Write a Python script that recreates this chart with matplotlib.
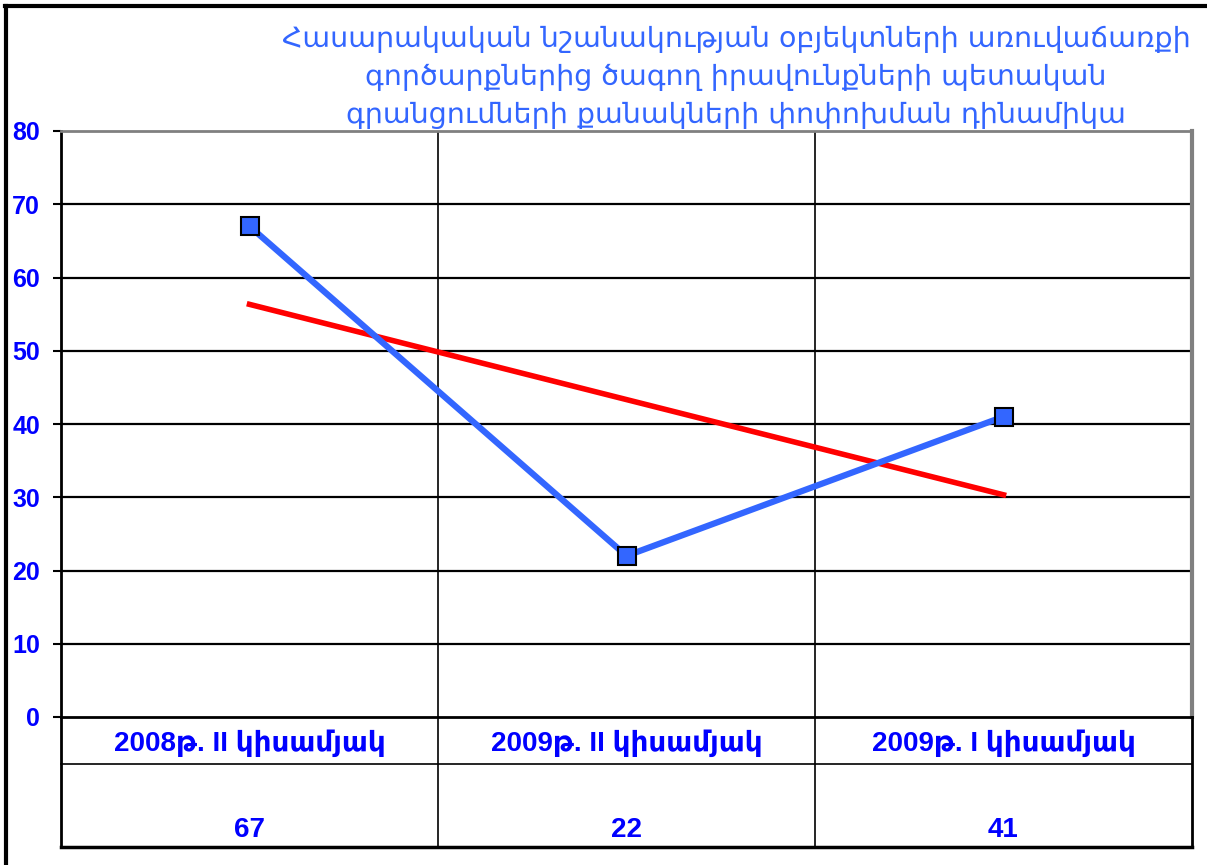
import numpy as np
import matplotlib
matplotlib.use("Agg")
import matplotlib.pyplot as plt
from matplotlib.lines import Line2D

title = ("Հասարակական նշանակության օբյեկտների առուվաճառքի\n"
         "գործարքներից ծագող իրավունքների պետական\n"
         "գրանցումների քանակների փոփոխման դինամիկա")
categories = ["2008թ. II կիսամյակ", "2009թ. II կիսամյակ", "2009թ. I կիսամյակ"]
values = [67, 22, 41]
yticks = [0, 10, 20, 30, 40, 50, 60, 70, 80]

W, H = 1207, 865
plt.rcParams['font.family'] = ['Liberation Sans', 'DejaVu Sans']
fig = plt.figure(figsize=(W / 100, H / 100), dpi=100)

def fx(px):
    return px / W

def fy(py):
    return 1 - py / H

L, R, T, B = 61, 1192, 131, 717
TB = 847
ROW = 764
ax = fig.add_axes([fx(L), fy(B), fx(R) - fx(L), fy(T) - fy(B)])
x = np.arange(len(values))
ax.set_xlim(-0.5, len(values) - 0.5)
ax.set_ylim(0, 80)
ax.set_yticks(yticks)
ax.set_yticklabels([str(t) for t in yticks], color='#0000FF', fontsize=18,
                   fontweight='bold')
ax.tick_params(axis='y', length=6, width=1.5, pad=9, color='black')
ax.set_xticks([])
for t in yticks[1:-1]:
    ax.axhline(t, color='black', lw=1.6, zorder=1)
for xb in np.arange(0.5, len(values) - 0.5, 1):
    ax.axvline(xb, color='black', lw=1.2, zorder=1)
ax.spines['top'].set_color('#808080')
ax.spines['top'].set_linewidth(2)
ax.spines['right'].set_color('#808080')
ax.spines['right'].set_linewidth(3)
ax.spines['left'].set_linewidth(2)
ax.spines['bottom'].set_linewidth(2)

ax.plot(x, values, color='#3366FF', lw=4.5, marker='s', markersize=13,
        markerfacecolor='#3366FF', markeredgecolor='black', markeredgewidth=1.5,
        zorder=4, clip_on=False)
coef = np.polyfit(x, values, 1)
ax.plot(x, np.polyval(coef, x), color='#FF0000', lw=4, zorder=3)

# data table
tax = fig.add_axes([fx(L), fy(TB), fx(R) - fx(L), fy(B) - fy(TB)])
tax.set_xlim(-0.5, len(values) - 0.5)
tax.set_ylim(TB, B)
tax.axis('off')
tax.plot([-0.5, len(values) - 0.5], [ROW, ROW], color='black', lw=1.2, clip_on=False)
tax.plot([-0.5, len(values) - 0.5], [TB, TB], color='black', lw=2.5, clip_on=False)
for xb in np.arange(-0.5, len(values), 1):
    lw = 2 if xb in (-0.5, len(values) - 0.5) else 1.2
    tax.plot([xb, xb], [B, TB], color='black', lw=lw, clip_on=False)
for i, (c, v) in enumerate(zip(categories, values)):
    tax.text(i, 743, c, ha='center', va='center', color='#0000FF',
             fontsize=20, fontweight='bold')
    tax.text(i, 830, str(v), ha='center', va='center', color='#0000FF',
             fontsize=20, fontweight='bold')

# title
fig.text(fx(736), fy(77), title, ha='center', va='center', color='#3366FF',
         fontsize=20.5, linespacing=1.44, family=['DejaVu Sans'])

# outer frame
fig.add_artist(Line2D([fx(5), fx(1207)], [fy(6), fy(6)], color='black', lw=3))
fig.add_artist(Line2D([fx(5.5), fx(5.5)], [fy(6), fy(865)], color='black', lw=3))

fig.savefig("out.png", dpi=100)
